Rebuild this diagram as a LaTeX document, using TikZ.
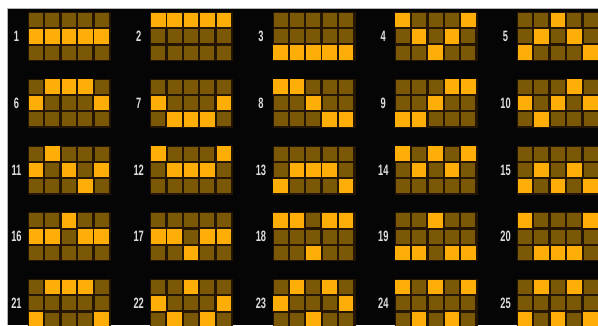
\documentclass[tikz,border=0pt]{standalone}
\usepackage{fontspec}
\usepackage{tikz}
\usetikzlibrary{positioning}
\newfontfamily\linefont[FakeStretch=0.62]{Liberation Sans Bold}
\definecolor{DimGold}{RGB}{122,88,6}
\definecolor{LitGold}{RGB}{255,174,8}
\definecolor{GapBrown}{RGB}{36,22,2}
\definecolor{LabelGray}{RGB}{222,222,222}
\definecolor{PanelBlack}{RGB}{6,5,6}

\begin{document}
\begin{tikzpicture}[x=1pt,y=-1pt,
		dimcell/.style={fill=DimGold},
		litcell/.style={fill=LitGold},
		gridback/.style={fill=GapBrown},
		linelabel/.style={text=LabelGray,font=\linefont\fontsize{15}{15}\selectfont,inner sep=0pt}]
		\useasboundingbox (0,0) rectangle (598,325);
		
		% background
		\fill[white] (0,0) rectangle (598,325);
		\fill[PanelBlack] (7,8) rectangle (598,325);
		\draw[gray!60,line width=0.6pt] (7,325) -- (7,8) -- (598,8);
		
		% paylines: number / lit row of each reel (0 top, 1 middle, 2 bottom)
		\foreach \n/\pat in {1/{1,1,1,1,1},2/{0,0,0,0,0},3/{2,2,2,2,2},4/{0,1,2,1,0},5/{2,1,0,1,2},
			6/{1,0,0,0,1},7/{1,2,2,2,1},8/{0,0,1,2,2},9/{2,2,1,0,0},10/{1,2,1,0,1},
			11/{1,0,1,2,1},12/{0,1,1,1,0},13/{2,1,1,1,2},14/{0,1,0,1,0},15/{2,1,2,1,2},
			16/{1,1,0,1,1},17/{1,1,2,1,1},18/{0,0,2,0,0},19/{2,2,0,2,2},20/{0,2,2,2,0},
			21/{2,0,0,0,2},22/{1,2,0,2,1},23/{1,0,2,0,1},24/{0,2,0,2,0},25/{2,0,2,0,2}}{
			\pgfmathsetmacro{\gx}{29+122.25*mod(\n-1,5)}
			\pgfmathsetmacro{\gy}{13+66.75*int((\n-1)/5)}
			
			% number
			\node[linelabel] (lbl\n) at (\gx-12.5,\gy+23.5) {\n};
			
			% reels
			\fill[gridback] (\gx-1,\gy-1) rectangle (\gx+82,\gy+48);
			\foreach \j in {0,1,2}
				\foreach \i in {0,...,4}
					\fill[dimcell] (\gx+16.4*\i,\gy+16.3*\j) rectangle ++(14,14);
			\foreach \k [count=\i from 0] in \pat
				\fill[litcell] (\gx+16.4*\i-0.3,\gy+16.3*\k-0.3) rectangle ++(14.6,14.6);
		}
	\end{tikzpicture}
\end{document}
